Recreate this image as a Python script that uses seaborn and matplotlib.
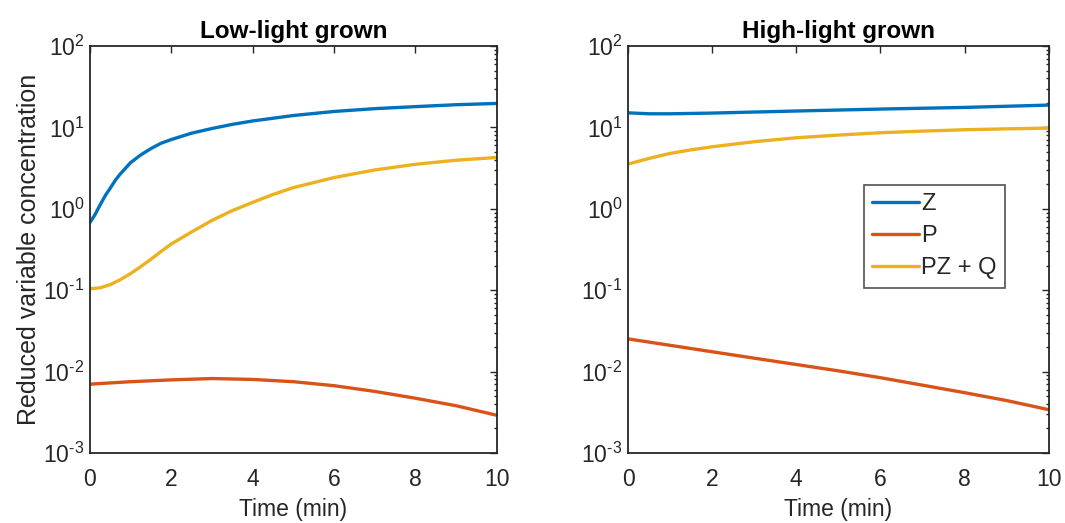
import numpy as np
import pandas as pd
import matplotlib
matplotlib.use("Agg")
import matplotlib.pyplot as plt
import seaborn as sns
from matplotlib.ticker import LogLocator, FixedLocator

# ---- data ----
series_names = ["Z", "P", "PZ + Q"]
colors = ["#0072BD", "#D95319", "#EDB120"]
panel_titles = ["Low-light grown", "High-light grown"]

# Low-light grown
ll_z_t = [0, 0.125, 0.25, 0.375, 0.5, 0.625, 0.75, 1, 1.25, 1.5, 1.75, 2, 2.5, 3, 3.5, 4, 5, 6, 7, 8, 9, 10]
ll_z = [0.68, 0.85, 1.12, 1.45, 1.8, 2.25, 2.7, 3.7, 4.6, 5.5, 6.4, 7.1, 8.5, 9.7, 10.9, 12.0, 14.0, 15.7, 17.0, 18.0, 19.0, 19.7]
ll_p_t = [0, 1, 2, 3, 4, 5, 6, 7, 8, 9, 10]
ll_p = [0.0070, 0.0075, 0.0079, 0.0082, 0.0080, 0.0075, 0.0067, 0.0057, 0.0047, 0.0038, 0.0029]
ll_q_t = [0, 0.25, 0.5, 0.75, 1, 1.25, 1.5, 1.75, 2, 2.5, 3, 3.5, 4, 4.5, 5, 6, 7, 8, 9, 10]
ll_q = [0.104, 0.107, 0.117, 0.135, 0.16, 0.195, 0.24, 0.3, 0.37, 0.52, 0.72, 0.95, 1.2, 1.5, 1.82, 2.42, 3.0, 3.52, 3.95, 4.27]

# High-light grown
hl_z_t = [0, 0.5, 1, 2, 4, 6, 8, 10]
hl_z = [15.1, 14.7, 14.7, 15.0, 15.9, 16.8, 17.6, 18.8]
hl_p_t = [0, 1, 2, 3, 4, 5, 6, 7, 8, 9, 10]
hl_p = [0.0252, 0.021, 0.0175, 0.0146, 0.0122, 0.0102, 0.0084, 0.0068, 0.0055, 0.0044, 0.0034]
hl_q_t = [0, 0.5, 1, 1.5, 2, 3, 4, 5, 6, 7, 8, 9, 10]
hl_q = [3.54, 4.16, 4.79, 5.3, 5.78, 6.67, 7.46, 8.05, 8.6, 9.0, 9.36, 9.6, 9.8]

x_ticks = [0, 2, 4, 6, 8, 10]
y_decades = [1e-3, 1e-2, 1e-1, 1e0, 1e1, 1e2]
y_exponents = ["-3", "-2", "-1", "0", "1", "2"]


def build_df(zt, z, pt, p, qt, q):
    frames = []
    for name, t, v in zip(series_names, [zt, pt, qt], [z, p, q]):
        frames.append(pd.DataFrame({"t": t, "v": v, "series": name}))
    return pd.concat(frames, ignore_index=True)


dfs = [build_df(ll_z_t, ll_z, ll_p_t, ll_p, ll_q_t, ll_q),
       build_df(hl_z_t, hl_z, hl_p_t, hl_p, hl_q_t, hl_q)]

sns.set_style("white")
plt.rcParams["font.family"] = ["Liberation Sans", "DejaVu Sans"]
plt.rcParams["mathtext.fontset"] = "custom"
plt.rcParams["mathtext.rm"] = "Liberation Sans"
plt.rcParams["mathtext.it"] = "Liberation Sans:italic"
plt.rcParams["mathtext.bf"] = "Liberation Sans:bold"


def exp_label(e):
    if e.startswith("-"):
        return r"$\mathdefault{10^{\text{-}%s}}$" % e[1:]
    return r"$\mathdefault{10^{%s}}$" % e


dark = "#262626"
fig = plt.figure(figsize=(10.65, 5.23), dpi=100)
axes = [fig.add_axes([0.0845, 0.134, 0.382, 0.778]),
        fig.add_axes([0.5897, 0.134, 0.395, 0.778])]

palette = dict(zip(series_names, colors))
for i, (ax, df) in enumerate(zip(axes, dfs)):
    sns.lineplot(data=df, x="t", y="v", hue="series", hue_order=series_names,
                 palette=palette, ax=ax, linewidth=2.4, legend=(i == 1),
                 estimator=None, sort=True)
    ax.set_yscale("log")
    ax.set_xlim(0, 10)
    ax.set_ylim(1e-3, 1e2)
    ax.set_xticks(x_ticks)
    ax.set_xticklabels([str(t) for t in x_ticks])
    ax.yaxis.set_major_locator(FixedLocator(y_decades))
    ax.yaxis.set_minor_locator(LogLocator(base=10, subs=np.arange(2, 10), numticks=20))
    ax.set_yticklabels([exp_label(e) for e in y_exponents])
    ax.tick_params(axis="both", which="both", direction="in", top=True, right=True,
                   colors=dark, labelcolor=dark, labelsize=16.5, width=1.0)
    ax.tick_params(axis="both", which="major", length=5)
    ax.tick_params(axis="y", which="minor", length=2.5)
    ax.tick_params(axis="x", which="major", pad=11)
    ax.tick_params(axis="y", which="major", pad=4)
    for s in ax.spines.values():
        s.set_color(dark)
        s.set_linewidth(1.3)
        s.set_visible(True)
    ax.set_title(panel_titles[i], fontsize=17.5, fontweight="bold", color="black", pad=6)
    ax.set_xlabel("Time (min)", fontsize=16.5, color=dark, labelpad=5)
    if i == 0:
        ax.set_ylabel("Reduced variable concentration", fontsize=18, color=dark, labelpad=2)
    else:
        ax.set_ylabel("")

leg = axes[1].legend(loc="upper left", bbox_to_anchor=(0.56, 0.658), fontsize=17,
                     frameon=True, fancybox=False, edgecolor=dark, handlelength=2.0,
                     handletextpad=0.1, borderpad=0.35, labelspacing=0.42,
                     borderaxespad=0)
leg.get_frame().set_linewidth(1.2)
for txt in leg.get_texts():
    txt.set_color(dark)

fig.savefig("out.png", dpi=100, facecolor="white")
